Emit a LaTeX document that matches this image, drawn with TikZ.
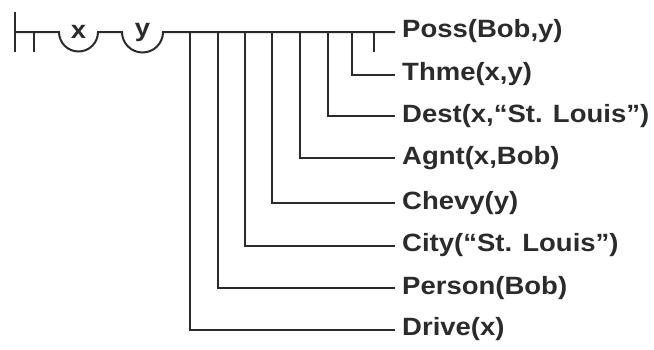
\documentclass[tikz,border=0pt]{standalone}
\usepackage{fontspec}
\setmainfont[FakeStretch=1.1]{Liberation Sans}
\begin{document}
\begin{tikzpicture}[x=1pt,y=-1pt,
  rule/.style={line width=2pt,draw=ink,line cap=butt},
  formula/.style={anchor=west,inner sep=0pt,text=ink,font=\bfseries\fontsize{25}{25}\selectfont},
  var/.style={inner sep=0pt,text=ink,font=\bfseries\fontsize{25}{25}\selectfont}]
\definecolor{ink}{HTML}{2B2B2B}
\useasboundingbox (0,0) rectangle (654,349);

% judgement stroke, content stroke and the two concavities
\coordinate (judge) at (15,32);
\coordinate (neg) at (34,32);
\draw[rule] (15,12) -- (15,52);
\draw[rule] (neg) -- (34,52);
\draw[rule] (judge) -- (59,32) arc[start angle=180,end angle=0,radius=19.5]
  -- (122,32) arc[start angle=180,end angle=0,radius=20.5] -- (395,32);
\node[var] (vx) at (78.5,32) {x};
\node[var] (vy) at (142.5,32) {y};

% conditions and consequent
\node[formula] (poss)   at (402,31)  {Poss(Bob,y)};
\node[formula] (thme)   at (402,74)  {Thme(x,y)};
\node[formula] (dest)   at (402,116) {Dest(x,“St. Louis”)};
\node[formula] (agnt)   at (402,158) {Agnt(x,Bob)};
\node[formula] (chevy)  at (402,203) {Chevy(y)};
\node[formula] (city)   at (402,245) {City(“St. Louis”)};
\node[formula] (person) at (402,288) {Person(Bob)};
\node[formula] (drive)  at (402,329) {Drive(x)};

% condition strokes hanging from the main stroke
\coordinate (cPoss) at (374,32);
\draw[rule] (cPoss) -- (374,52);
\foreach \x/\y/\n in {352/75/thme,328/116/dest,300/158/agnt,272/203/chevy,245/246/city,218/288/person,190/330/drive}{
  \draw[rule] (\x,31) -- (\x,\y) -- ([xshift=-7pt]\n.west |- 0,\y);
}
\end{tikzpicture}
\end{document}
